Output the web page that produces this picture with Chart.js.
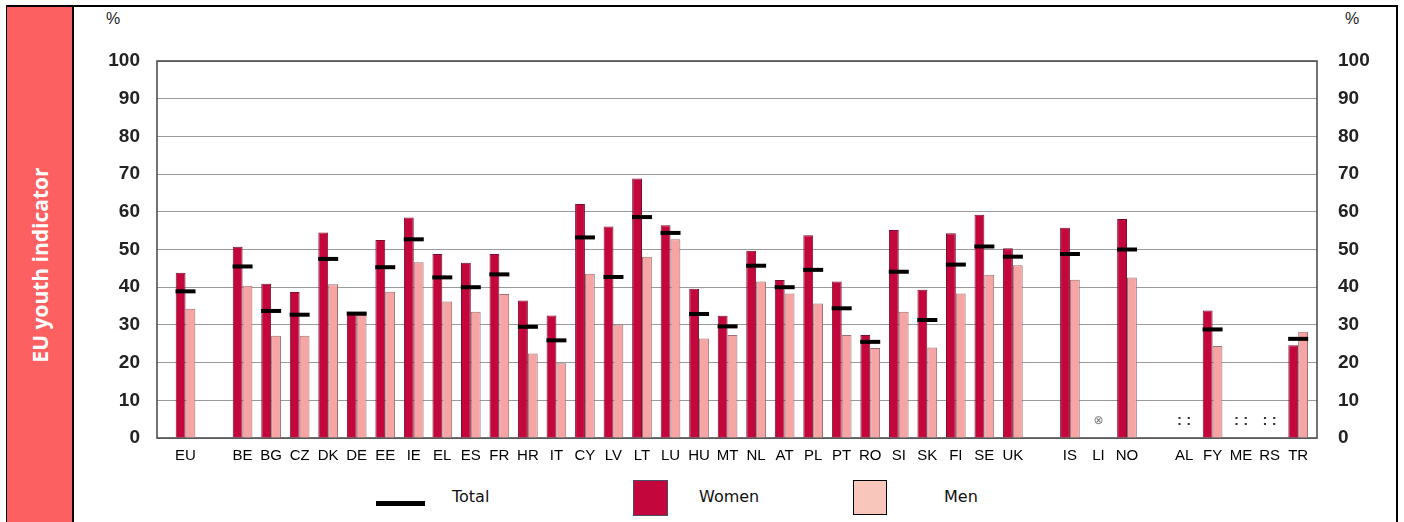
<!DOCTYPE html>
<html>
<head>
<meta charset="utf-8">
<script src="https://cdn.jsdelivr.net/npm/chart.js@4"></script>
<style>
  html, body { margin: 0; padding: 0; background: #fff; }
  #page { position: relative; width: 1404px; height: 522px; overflow: hidden; }
  #frame { position: absolute; left: 6px; top: 5px; width: 1392px; height: 530px;
           border: 2px solid #000; box-sizing: border-box; }
  #side { position: absolute; left: 7px; top: 7px; width: 65px; height: 520px;
          background: #fd6060; border-right: 2px solid #000; }
  #side span { position: absolute; left: 50%; top: 258px; white-space: nowrap;
               transform: translate(-50%, -50%) rotate(-90deg);
               color: #fff; font: bold 21px "Open Sans", sans-serif; }
  .pct { position: absolute; top: 10px; font: 16px "Liberation Sans", Arial, sans-serif; color: #222; }
  .leg { position: absolute; font: 16px "DejaVu Sans", sans-serif; color: #111; }
  canvas { position: absolute; left: 0; top: 0; }
</style>
</head>
<body>
<div id="page">
  <div id="frame"></div>
  <div id="side"><span>EU youth indicator</span></div>
  <div class="pct" style="left:106px">%</div>
  <div class="pct" style="left:1345px">%</div>

  <div style="position:absolute;left:376px;top:501px;width:49px;height:5px;background:#000"></div>
  <div class="leg" style="left:452px;top:487px">Total</div>
  <div style="position:absolute;left:633px;top:480px;width:33px;height:34px;background:#c3073d;border:1px solid #4a4a6a"></div>
  <div class="leg" style="left:699px;top:487px">Women</div>
  <div style="position:absolute;left:853px;top:480px;width:32px;height:33px;background:#f8c6bb;border:1.5px solid #000"></div>
  <div class="leg" style="left:944px;top:487px">Men</div>

  <canvas id="chart" width="1404" height="522"></canvas>
</div>
<script>
// '' = empty slot between country groups
const categories = ['EU', '',
  'BE', 'BG', 'CZ', 'DK', 'DE', 'EE', 'IE', 'EL', 'ES', 'FR', 'HR', 'IT', 'CY', 'LV',
  'LT', 'LU', 'HU', 'MT', 'NL', 'AT', 'PL', 'PT', 'RO', 'SI', 'SK', 'FI', 'SE', 'UK', '',
  'IS', 'LI', 'NO', '',
  'AL', 'FY', 'ME', 'RS', 'TR'];

const women = [43.8, null,
  50.7, 40.9, 38.7, 54.5, 33.3, 52.5, 58.5, 48.8, 46.5, 48.8, 36.5, 32.5, 62.1, 56.1,
  68.8, 56.4, 39.6, 32.4, 49.7, 41.9, 53.8, 41.5, 27.3, 55.2, 39.3, 54.3, 59.2, 50.3, null,
  55.8, null, 58.1, null,
  null, 33.8, null, null, 24.6];

const men = [34.3, null,
  40.4, 27.1, 27.1, 40.8, 32.6, 38.8, 46.6, 36.2, 33.5, 38.2, 22.4, 19.8, 43.6, 30.1,
  48.1, 52.7, 26.4, 27.3, 41.5, 38.3, 35.7, 27.3, 23.9, 33.5, 24.0, 38.3, 43.3, 45.8, null,
  42.0, null, 42.6, null,
  null, 24.4, null, null, 28.2];

const total = [38.9, null,
  45.5, 33.7, 32.7, 47.5, 33.0, 45.3, 52.7, 42.6, 40.0, 43.4, 29.5, 25.9, 53.2, 42.7,
  58.6, 54.4, 32.9, 29.6, 45.7, 40.0, 44.6, 34.4, 25.5, 44.1, 31.3, 46.0, 50.8, 48.1, null,
  48.8, null, 50.0, null,
  null, 28.8, null, null, 26.3];

// flags for countries without bars
const flags = { LI: '⊗', AL: ': :', ME: ': :', RS: ': :' };

const yTicks = [0, 10, 20, 30, 40, 50, 60, 70, 80, 90, 100];

function points(values) {
  return values.map((v, i) => ({ x: i, y: v })).filter(p => p.y !== null);
}

const framePlugin = {
  id: 'frame',
  beforeDatasetsDraw(chart) {
    const a = chart.chartArea, ctx = chart.ctx;
    ctx.save();
    ctx.strokeStyle = '#444';
    ctx.lineWidth = 1.5;
    ctx.strokeRect(a.left, a.top, a.right - a.left, a.bottom - a.top);
    ctx.restore();
  }
};

const flagPlugin = {
  id: 'flags',
  afterDatasetsDraw(chart) {
    const ctx = chart.ctx;
    ctx.save();
    ctx.textAlign = 'center';
    ctx.textBaseline = 'middle';
    categories.forEach((c, i) => {
      if (!flags[c]) return;
      const x = chart.scales.x.getPixelForValue(i);
      const y = chart.scales.y.getPixelForValue(4.5);
      if (flags[c] === '⊗') {
        ctx.fillStyle = '#777';
        ctx.font = '12px "DejaVu Sans"';
      } else {
        ctx.fillStyle = '#333';
        ctx.font = 'bold 15px "Liberation Sans"';
      }
      ctx.fillText(flags[c], x, y);
    });
    ctx.restore();
  }
};

const tickFont = { family: 'Liberation Sans', size: 19, weight: 'bold' };

new Chart(document.getElementById('chart'), {
  type: 'bar',
  data: {
    datasets: [
      {
        type: 'line',
        label: 'Total',
        data: points(total),
        showLine: false,
        pointStyle: 'line',
        pointRadius: 10,
        pointHoverRadius: 10,
        pointBorderWidth: 4,
        borderColor: '#000',
        backgroundColor: '#000',
        order: 0
      },
      {
        label: 'Women',
        data: points(women),
        backgroundColor: '#c3073d',
        borderColor: '#7a1030',
        borderWidth: 1,
        order: 1
      },
      {
        label: 'Men',
        data: points(men),
        backgroundColor: '#f6a4a4',
        borderColor: '#9a7070',
        borderWidth: 1,
        order: 1
      }
    ]
  },
  options: {
    responsive: false,
    animation: false,
    categoryPercentage: 0.69,
    barPercentage: 1.0,
    layout: { padding: { top: 61, bottom: 54, left: 0, right: 0 } },
    plugins: {
      legend: { display: false },
      tooltip: { enabled: false }
    },
    scales: {
      x: {
        type: 'linear',
        offset: false,
        min: -1,
        max: 39.66,
        grid: { display: false, drawTicks: false },
        border: { display: false },
        afterBuildTicks(axis) {
          axis.ticks = categories.map((c, i) => ({ value: i })).filter(t => categories[t.value]);
        },
        afterFit(axis) { axis.height = 30; },
        ticks: {
          autoSkip: false,
          maxRotation: 0,
          padding: 9,
          color: '#000',
          font: { family: 'Liberation Sans', size: 15 },
          callback: v => categories[v] || ''
        }
      },
      y: {
        position: 'left',
        min: 0,
        max: 100,
        afterFit(axis) { axis.width = 157; },
        afterBuildTicks(axis) { axis.ticks = yTicks.map(v => ({ value: v })); },
        grid: { color: '#9a9a9a', lineWidth: 1, drawTicks: false },
        border: { display: false },
        ticks: { padding: 17, color: '#222', font: tickFont }
      },
      y2: {
        position: 'right',
        min: 0,
        max: 100,
        afterFit(axis) { axis.width = 87; },
        afterBuildTicks(axis) { axis.ticks = yTicks.map(v => ({ value: v })); },
        grid: { display: false, drawTicks: false },
        border: { display: false },
        ticks: { padding: 21, color: '#222', font: tickFont }
      }
    }
  },
  plugins: [framePlugin, flagPlugin]
});
</script>
</body>
</html>
